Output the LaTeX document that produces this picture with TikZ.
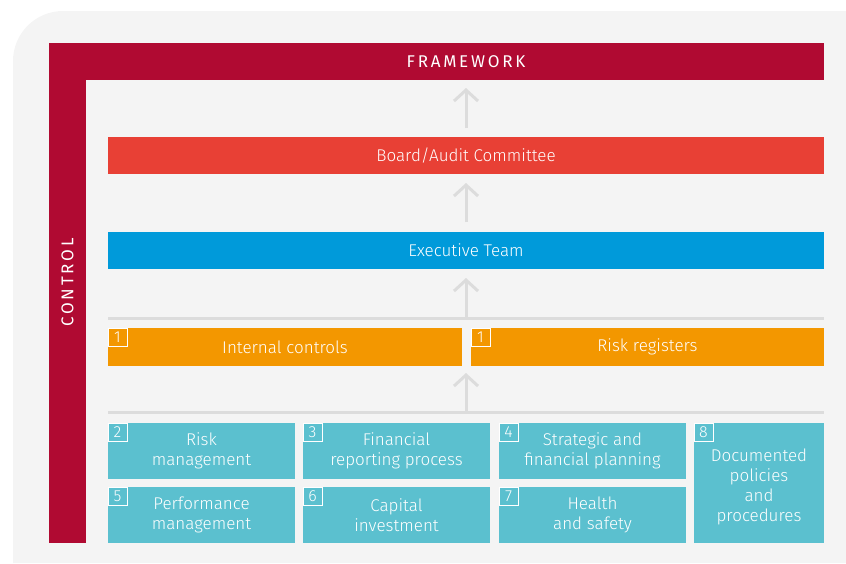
\documentclass[tikz,border=0pt]{standalone}
\usepackage{fontspec}
\setmainfont{Fira Sans}[UprightFont=* Light]
\newfontfamily\capsfont{Fira Sans}
\usetikzlibrary{arrows.meta}
\definecolor{panel}{HTML}{F4F4F4}
\definecolor{crimson}{HTML}{B00A32}
\definecolor{boardred}{HTML}{E84035}
\definecolor{execblue}{HTML}{009ADA}
\definecolor{ctrlorange}{HTML}{F39700}
\definecolor{procteal}{HTML}{5BC0CF}
\definecolor{linkgray}{HTML}{DCDCDC}
\tikzset{
  bar/.style={fill=crimson, inner sep=0pt, outer sep=0pt, anchor=north west},
  level/.style={inner sep=0pt, outer sep=0pt, anchor=north west, text=white,
    font=\fontsize{17}{20}\selectfont, minimum height=37pt},
  proc/.style={fill=procteal, inner sep=0pt, outer sep=0pt, anchor=north west,
    text=white, align=center, font=\fontsize{17}{20}\selectfont,
    minimum width=187pt, minimum height=56pt},
  numtag/.style={draw=white, line width=0.9pt, inner sep=0pt, outer sep=0pt,
    anchor=north west, minimum width=19pt, minimum height=18pt, text=white,
    font=\fontsize{16}{18}\selectfont},
  caption/.style={text=white, font=\capsfont\fontsize{17}{20}\selectfont\addfontfeature{LetterSpace=16}},
  uparrow/.style={draw=linkgray, line width=3pt,
    -{Straight Barb[length=11pt,width=24pt]}},
  rule/.style={draw=linkgray, line width=3pt},
}
\begin{document}
\begin{tikzpicture}[x=1pt,y=-1pt]
\useasboundingbox (0,0) rectangle (846,563);
% rounded panel behind everything
\fill[panel] (13,563) [rounded corners=50pt] -- (13,11) [sharp corners] -- (846,11) -- (846,563) -- cycle;

% framework bar and control bar
\node[bar, minimum width=775pt, minimum height=37pt] (framework) at (49,43) {};
\node[caption] (fwlabel) at (466,61.5) {FRAMEWORK};
\node[bar, minimum width=37pt, minimum height=500pt] (control) at (49,43) {};
\node[caption, rotate=90] (ctlabel) at (67.5,282.5) {CONTROL};

% levels
\node[level, fill=boardred, minimum width=716pt] (board) at (108,137) {Board/Audit Committee};
\node[level, fill=execblue, minimum width=716pt] (exec) at (108,232) {Executive Team};
\node[level, fill=ctrlorange, minimum width=354pt, minimum height=38pt] (ic) at (108,328) {Internal controls};
\node[level, fill=ctrlorange, minimum width=353pt, minimum height=38pt] (rr) at (471,328) {Risk registers};
\node[numtag] (icn) at (ic.north west) {1};
\node[numtag] (rrn) at (rr.north west) {1};

% processes
\node[proc] (p2) at (108,423) {Risk\\management};
\node[proc] (p3) at (303,423) {Financial\\reporting process};
\node[proc] (p4) at (499,423) {Strategic and\\financial planning};
\node[proc] (p5) at (108,487) {Performance\\management};
\node[proc] (p6) at (303,487) {Capital\\investment};
\node[proc] (p7) at (499,487) {Health\\and safety};
\node[proc, minimum width=130pt, minimum height=120pt] (p8) at (694,423) {};
\node[text=white, align=center, font=\fontsize{17}{19.8}\selectfont] (p8text) at (759,487) {Documented\\policies\\and\\procedures};
\node[numtag] (p2n) at (p2.north west) {2};
\node[numtag] (p3n) at (p3.north west) {3};
\node[numtag] (p4n) at (p4.north west) {4};
\node[numtag] (p5n) at (p5.north west) {5};
\node[numtag] (p6n) at (p6.north west) {6};
\node[numtag] (p7n) at (p7.north west) {7};
\node[numtag] (p8n) at (p8.north west) {8};

% rules feeding the upward arrows
\coordinate (r1w) at (108,318);
\coordinate (r1e) at (824,318);
\coordinate (r2w) at (108,412.5);
\coordinate (r2e) at (824,412.5);
\draw[rule] (r1w) -- (r1e);
\draw[rule] (r2w) -- (r2e);

% upward arrows
\draw[uparrow, shorten <=9pt, shorten >=8pt] (board.north) -- (board.north |- framework.south);
\draw[uparrow, shorten <=10pt, shorten >=9pt] (exec.north) -- (board.south);
\draw[uparrow, shorten >=9pt] (exec.south |- r1w) -- (exec.south);
\draw[uparrow, shorten >=7pt] (exec.south |- r2w) -- (exec.south |- ic.south);
\end{tikzpicture}
\end{document}
